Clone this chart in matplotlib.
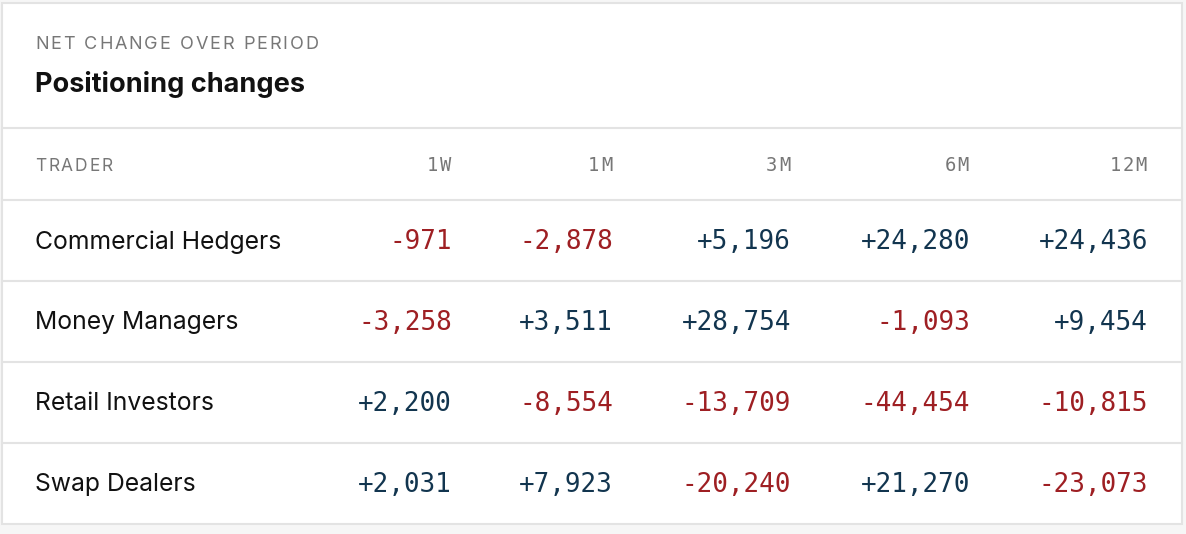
import matplotlib
matplotlib.use("Agg")
import matplotlib.pyplot as plt
from matplotlib.patches import Rectangle

# data
traders = ["Commercial Hedgers", "Money Managers", "Retail Investors", "Swap Dealers"]
periods = ["1W", "1M", "3M", "6M", "12M"]
changes = [
    [-971, -2878, 5196, 24280, 24436],
    [-3258, 3511, 28754, -1093, 9454],
    [2200, -8554, -13709, -44454, -10815],
    [2031, 7923, -20240, 21270, -23073],
]

W, H = 1186, 534
RED = "#9e1f23"
BLUE = "#12354f"
GREY = "#777777"
LINE = "#e3e3e3"

fig = plt.figure(figsize=(W / 100, H / 100), dpi=100)
fig.patch.set_facecolor("#f6f6f6")
ax = fig.add_axes([0, 0, 1, 1])
ax.set_xlim(0, W)
ax.set_ylim(H, 0)
ax.axis("off")

# card
ax.add_patch(Rectangle((2, 3), 1180, 521, facecolor="white", edgecolor=LINE, lw=1.5))

renderer = fig.canvas.get_renderer()


def spaced(x, y, s, spacing, ha="left", **kw):
    # draw text char by char with extra tracking
    widths = []
    for ch in s:
        t = ax.text(0, 0, ch, **kw)
        widths.append(t.get_window_extent(renderer).width)
        t.remove()
    total = sum(widths) + spacing * (len(s) - 1)
    cx = x - total if ha == "right" else x
    for ch, w in zip(s, widths):
        ax.text(cx, y, ch, ha="left", va="baseline", **kw)
        cx += w + spacing


# baselines
spaced(35, 49, "NET CHANGE OVER PERIOD", 1.9, fontsize=13, color=GREY, family="Inter")
ax.text(35, 85, "Positioning changes", fontsize=19.5, fontweight="bold", color="#111111",
        family="Inter", va="center")

for yl in [128, 200, 281, 362, 443]:
    ax.plot([2, 1182], [yl, yl], color=LINE, lw=1.5)

col_x = [452, 613, 791, 970, 1148]
spaced(35, 171, "TRADER", 1.8, fontsize=12.5, color=GREY, family="Inter")
for px, p in zip(col_x, periods):
    spaced(px - 1, 171, p, 1.8, ha="right", fontsize=13.5, color=GREY, family="DejaVu Sans Mono")

row_y = [242, 323, 404, 485]
for ry, name, vals in zip(row_y, traders, changes):
    ax.text(35, ry, name, fontsize=17.8, color="#111111", family="Inter", va="center")
    for px, v in zip(col_x, vals):
        ax.text(px, ry, f"{v:+,}", fontsize=18.7, color=BLUE if v > 0 else RED,
                family="DejaVu Sans Mono", ha="right", va="center")

fig.savefig("out.png", dpi=100, facecolor=fig.get_facecolor())
